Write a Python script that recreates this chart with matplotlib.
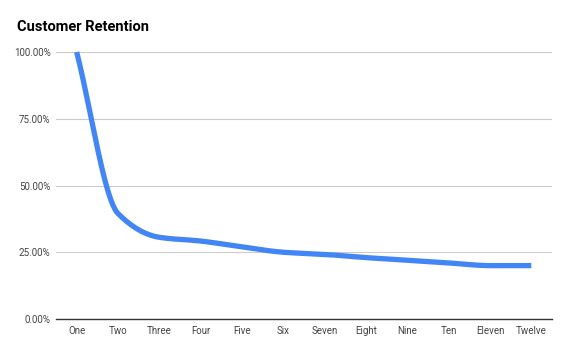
import numpy as np
import matplotlib
matplotlib.use("Agg")
import matplotlib.pyplot as plt
from matplotlib.ticker import FuncFormatter

categories = ["One", "Two", "Three", "Four", "Five", "Six", "Seven", "Eight",
              "Nine", "Ten", "Eleven", "Twelve"]
retention = [100.0, 39.5, 30.6, 29.2, 27.0, 25.0, 24.2, 23.0, 22.0, 21.0, 20.0, 20.0]
yticks = [0, 25, 50, 75, 100]

plt.rcParams['font.family'] = ['Roboto', 'DejaVu Sans']

def monotone_curve(y, n=40):
    y = np.asarray(y, float)
    x = np.arange(len(y), dtype=float)
    d = np.diff(y)
    m = np.zeros_like(y)
    m[0], m[-1] = d[0], d[-1]
    for i in range(1, len(y) - 1):
        if d[i-1] * d[i] <= 0:
            m[i] = 0.0
        else:
            m[i] = 2.0 / (1.0 / d[i-1] + 1.0 / d[i])
    xs, ys = [], []
    for i in range(len(y) - 1):
        t = np.linspace(0, 1, n, endpoint=(i == len(y) - 2))
        h00 = 2*t**3 - 3*t**2 + 1
        h10 = t**3 - 2*t**2 + t
        h01 = -2*t**3 + 3*t**2
        h11 = t**3 - t**2
        xs.append(x[i] + t)
        ys.append(h00*y[i] + h10*m[i] + h01*y[i+1] + h11*m[i+1])
    return np.concatenate(xs), np.concatenate(ys)

fig = plt.figure(figsize=(5.7, 3.52), dpi=100)
ax = fig.add_axes([56/570, 1-319/352, (552-56)/570, (319-52)/352])

xs, ys = monotone_curve(retention)
ax.plot(xs, ys, color="#4285F4", lw=3.8, solid_capstyle="butt", zorder=3, clip_on=False)

ax.set_xlim(-0.5, len(categories) - 0.5)
ax.set_ylim(0, 100)
ax.set_xticks(range(len(categories)))
ax.set_xticklabels(categories)
ax.set_yticks(yticks)
ax.yaxis.set_major_formatter(FuncFormatter(lambda v, p: f"{v:.2f}%"))
ax.tick_params(axis='both', length=0, labelsize=7, colors="#444444")
ax.tick_params(axis='y', pad=4)
ax.tick_params(axis='x', pad=5)
ax.grid(axis='y', color="#cccccc", lw=0.8)
ax.set_axisbelow(True)
for s in ['top', 'right', 'left']:
    ax.spines[s].set_visible(False)
ax.spines['bottom'].set_color("#333333")
ax.spines['bottom'].set_linewidth(1.0)
ax.spines['bottom'].set_zorder(2)

fig.text(17/570, 1-31/352, "Customer Retention", fontsize=10.5, fontweight='bold',
         color="#000000", va='baseline', ha='left')

fig.savefig("out.png", dpi=100, facecolor="white")
